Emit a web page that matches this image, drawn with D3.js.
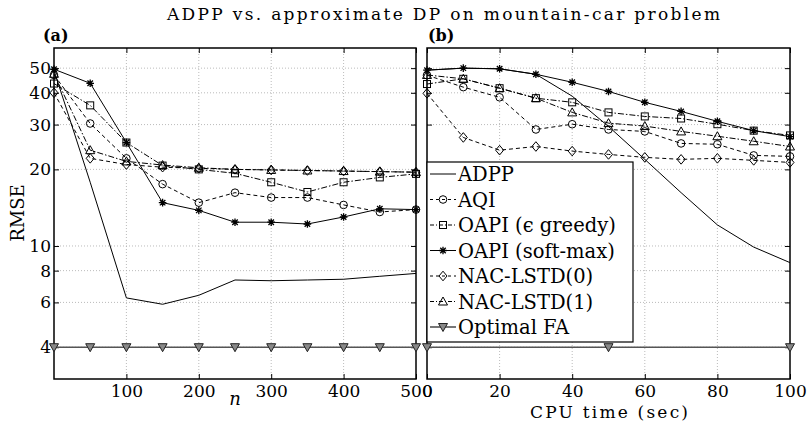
<!DOCTYPE html>
<html>
<head>
<meta charset="utf-8">
<script src="https://cdn.jsdelivr.net/npm/d3@7"></script>
<style>
  body { margin: 0; background: #fff; }
  text { font-family: "DejaVu Serif", serif; fill: #000; }
</style>
</head>
<body>
<svg width="807" height="423"></svg>
<script>
// valores
const nVals = [0, 50, 100, 150, 200, 250, 300, 350, 400, 450, 500];
const tVals = [0, 10, 20, 30, 40, 50, 60, 70, 80, 90, 100];
const tFA = [0, 50, 100];

const adppA  = [49, 17.8, 6.25, 5.9, 6.4, 7.35, 7.3, 7.35, 7.4, 7.6, 7.8];
const aqiA   = [47, 30.3, 22.1, 17.5, 14.8, 16.2, 15.5, 15.5, 14.5, 13.6, 13.9];
const epsA   = [43.5, 35.7, 25.5, 20.7, 20.0, 19.3, 17.8, 16.3, 17.8, 18.6, 19.2];
const softA  = [49.5, 43.6, 25.5, 14.8, 13.8, 12.4, 12.4, 12.2, 13.0, 14.0, 13.9];
const nac0A  = [40, 22.1, 20.9, 20.4, 20.2, 20.0, 19.9, 19.8, 19.7, 19.6, 19.5];
const nac1A  = [47.5, 23.8, 21.5, 20.8, 20.3, 20.0, 19.9, 19.8, 19.7, 19.6, 19.5];
const faA    = [4, 4, 4, 4, 4, 4, 4, 4, 4, 4, 4];

const adppB  = [49.1, 50, 49.7, 47.3, 38.8, 29.5, 21.9, 16.2, 12.1, 9.9, 8.6];
const aqiB   = [46.9, 42.1, 38.4, 28.7, 30.1, 28.7, 28.2, 25.3, 25.1, 22.7, 22.5];
const epsB   = [43.3, 45.4, 41.7, 38.1, 36.7, 33.5, 32.3, 31.7, 30.1, 28.4, 27.2];
const softB  = [49.1, 50, 49.7, 47.3, 44, 40.5, 36.7, 33.8, 30.9, 28.4, 26.9];
const nac0B  = [39.8, 26.7, 23.8, 24.6, 23.6, 22.9, 22.3, 21.9, 22.1, 21.7, 21.3];
const nac1B  = [47, 45.4, 41.7, 38.1, 33.5, 30.4, 29.6, 28.2, 27.0, 25.8, 24.6];
const faB    = [4, 4, 4];

const yTicks = [4, 6, 8, 10, 20, 30, 40, 50];
const xTicksA = [100, 200, 300, 400, 500];
const xTicksB = [0, 20, 40, 60, 80, 100];

const nomes = ["ADPP", "AQI", "OAPI (\u03F5  greedy)", "OAPI (soft-max)", "NAC-LSTD(0)", "NAC-LSTD(1)", "Optimal FA"];

const svg = d3.select("svg");
const topo = 48, base = 379;

const y = d3.scaleLog().domain([3, 60]).range([base, topo]);
const xA = d3.scaleLinear().domain([0, 500]).range([54, 416]);
const xB = d3.scaleLinear().domain([0, 100]).range([427, 790]);

// estilos das series: tracejado e marcador
const estilos = [
  {dash: null, marc: null, cor: "#000"},
  {dash: "4,3", marc: "circulo", cor: "#000"},
  {dash: "6,2,1.5,2", marc: "quadrado", cor: "#000"},
  {dash: null, marc: "estrela", cor: "#000"},
  {dash: "4,3", marc: "losango", cor: "#000"},
  {dash: "6,2,1.5,2", marc: "triangulo", cor: "#000"},
  {dash: null, marc: "trianguloBaixo", cor: "#555"}
];

function marcador(g, tipo, cx, cy, cor) {
  if (tipo === "circulo") {
    g.append("circle").attr("cx", cx).attr("cy", cy).attr("r", 3.8)
      .attr("fill", "none").attr("stroke", cor).attr("stroke-width", 1);
  } else if (tipo === "quadrado") {
    g.append("rect").attr("x", cx - 3.5).attr("y", cy - 3.5).attr("width", 7).attr("height", 7)
      .attr("fill", "none").attr("stroke", cor).attr("stroke-width", 1);
  } else if (tipo === "losango") {
    g.append("path").attr("d", `M${cx},${cy - 4.8}L${cx + 4},${cy}L${cx},${cy + 4.8}L${cx - 4},${cy}Z`)
      .attr("fill", "none").attr("stroke", cor).attr("stroke-width", 1);
  } else if (tipo === "triangulo") {
    g.append("path").attr("d", `M${cx},${cy - 4.5}L${cx + 4.5},${cy + 3.5}L${cx - 4.5},${cy + 3.5}Z`)
      .attr("fill", "none").attr("stroke", cor).attr("stroke-width", 1);
  } else if (tipo === "trianguloBaixo") {
    g.append("path").attr("d", `M${cx},${cy + 4.5}L${cx + 4.5},${cy - 3.5}L${cx - 4.5},${cy - 3.5}Z`)
      .attr("fill", "#888").attr("stroke", "#222").attr("stroke-width", 1);
  } else if (tipo === "estrela") {
    const r = 3.8, d = r * 0.72;
    g.append("path")
      .attr("d", `M${cx - r},${cy}L${cx + r},${cy}M${cx},${cy - r}L${cx},${cy + r}` +
                 `M${cx - d},${cy - d}L${cx + d},${cy + d}M${cx - d},${cy + d}L${cx + d},${cy - d}`)
      .attr("stroke", cor).attr("stroke-width", 1.3);
  }
}

function painel(x, xTicks, mostraY) {
  const g = svg.append("g");
  const [x0, x1] = x.range();

  // grade pontilhada
  g.selectAll(".gx").data(xTicks.filter(t => x(t) > x0 + 1 && x(t) < x1 - 1)).enter()
    .append("line")
      .attr("x1", d => x(d)).attr("x2", d => x(d))
      .attr("y1", topo).attr("y2", base)
      .attr("stroke", "#aaa").attr("stroke-width", 0.8).attr("stroke-dasharray", "1,2");
  g.selectAll(".gy").data(yTicks).enter()
    .append("line")
      .attr("x1", x0).attr("x2", x1)
      .attr("y1", d => y(d)).attr("y2", d => y(d))
      .attr("stroke", "#aaa").attr("stroke-width", 0.8).attr("stroke-dasharray", "1,2");

  // eixos com ticks para dentro
  const eixoX = d3.axisBottom(x).tickValues(xTicks).tickSize(-5).tickPadding(6).tickFormat(d3.format("d"));
  const eixoY = d3.axisLeft(y).tickValues(yTicks).tickSize(-5).tickPadding(3).tickFormat(d3.format("d"));

  const gx = g.append("g").attr("transform", `translate(0,${base})`).call(eixoX);
  gx.selectAll("text").attr("font-size", 17).attr("font-family", "DejaVu Serif").attr("dy", "0.71em");
  const gy = g.append("g").attr("transform", `translate(${x0},0)`).call(eixoY);
  gy.selectAll("text").attr("font-size", 17).attr("font-family", "DejaVu Serif");
  if (!mostraY) gy.selectAll("text").remove();
  g.append("g").attr("transform", `translate(0,${topo})`)
    .call(d3.axisTop(x).tickValues(xTicks).tickSize(-5).tickFormat(""));
  g.append("g").attr("transform", `translate(${x1},0)`)
    .call(d3.axisRight(y).tickValues(yTicks).tickSize(-5).tickFormat(""));
  g.selectAll(".domain").remove();
  g.selectAll(".tick line").attr("stroke", "#000");

  g.append("rect")
    .attr("x", x0).attr("y", topo).attr("width", x1 - x0).attr("height", base - topo)
    .attr("fill", "none").attr("stroke", "#000").attr("stroke-width", 1.5);
  return g;
}

function series(g, x, xs, lista) {
  lista.forEach((vals, i) => {
    const e = estilos[i];
    const xv = (i === 6 && xs.fa) ? xs.fa : xs.v;
    const pts = vals.map((v, k) => [x(xv[k]), y(v)]);
    const linha = d3.line();
    const p = g.append("path")
      .attr("d", i === 6 ? linha([[x.range()[0], y(4)], [x.range()[1], y(4)]]) : linha(pts))
      .attr("fill", "none").attr("stroke", e.cor).attr("stroke-width", i === 6 ? 1.6 : 1);
    if (e.dash) p.attr("stroke-dasharray", e.dash);
    if (e.marc) pts.forEach(([px, py]) => marcador(g, e.marc, px, py, e.cor));
  });
}

const gA = painel(xA, xTicksA, true);
const gB = painel(xB, xTicksB, false);

series(gA, xA, {v: nVals}, [adppA, aqiA, epsA, softA, nac0A, nac1A, faA]);
series(gB, xB, {v: tVals, fa: tFA}, [adppB, aqiB, epsB, softB, nac0B, nac1B, faB]);

// legenda
const leg = svg.append("g");
leg.append("rect").attr("x", 427).attr("y", 162).attr("width", 206).attr("height", 180)
  .attr("fill", "#fff").attr("stroke", "#000").attr("stroke-width", 1.2);
nomes.forEach((nome, i) => {
  const ly = 174 + i * 25.5;
  const e = estilos[i];
  const l = leg.append("line").attr("x1", 430).attr("x2", 456).attr("y1", ly).attr("y2", ly)
    .attr("stroke", e.cor).attr("stroke-width", i === 6 ? 1.6 : 1);
  if (e.dash) l.attr("stroke-dasharray", e.dash === "4,3" ? "3,3" : "4,2,1,2");
  if (e.marc) marcador(leg, e.marc, 443, ly, e.cor);
  leg.append("text").attr("x", 458).attr("y", ly).attr("dy", "0.36em")
    .attr("font-size", 19.5).text(nome);
});

// textos
svg.append("text").attr("x", 167).attr("y", 20)
  .attr("font-size", 17).attr("textLength", 553).attr("lengthAdjust", "spacing")
  .text("ADPP vs. approximate DP on mountain-car problem");
svg.append("text").attr("x", 43).attr("y", 41).attr("font-size", 16).attr("font-weight", "bold").text("(a)");
svg.append("text").attr("x", 428).attr("y", 41).attr("font-size", 16).attr("font-weight", "bold").text("(b)");
svg.append("text").attr("transform", "translate(24,213) rotate(-90)").attr("text-anchor", "middle")
  .attr("font-size", 18).text("RMSE");
svg.append("text").attr("x", 235).attr("y", 405).attr("text-anchor", "middle")
  .attr("font-size", 18).attr("font-style", "italic").text("n");
svg.append("text").attr("x", 530).attr("y", 418)
  .attr("font-size", 17).attr("textLength", 158).attr("lengthAdjust", "spacing")
  .text("CPU time (sec)");
</script>
</body>
</html>
